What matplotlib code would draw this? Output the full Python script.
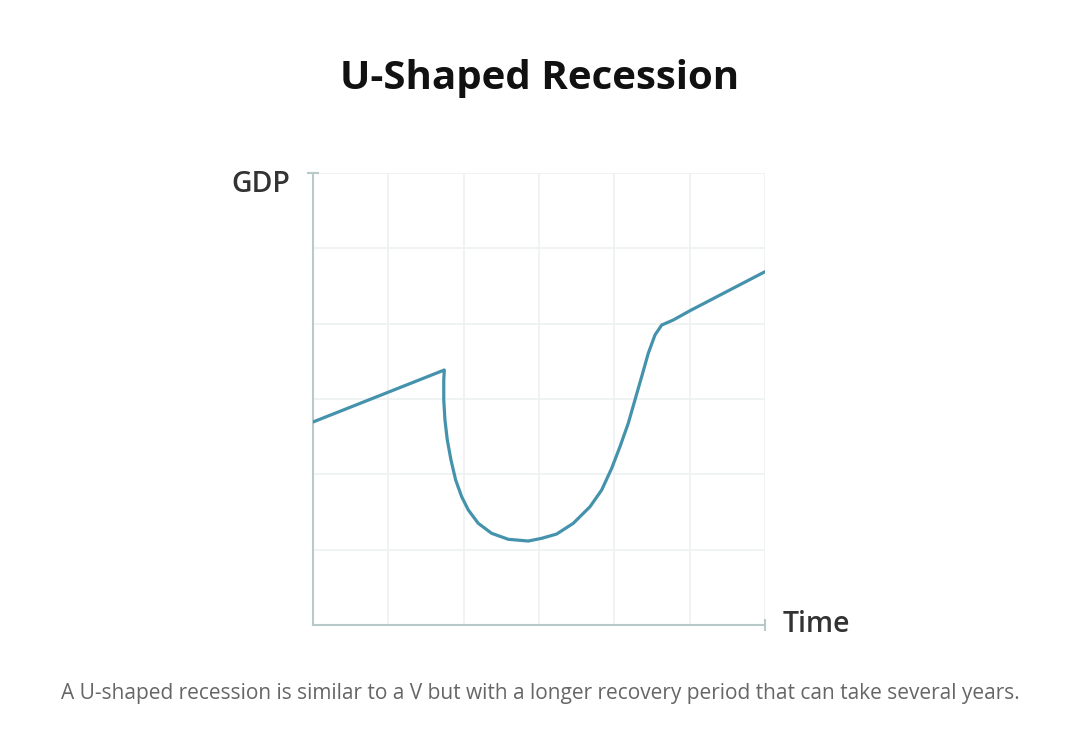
import matplotlib
matplotlib.use('Agg')
import matplotlib.pyplot as plt

# GDP curve (grid units, 6 x 6 grid)
tiempo = [0.0, 1.743, 1.736, 1.736, 1.752, 1.783, 1.832, 1.894, 1.974, 2.062,
          2.194, 2.372, 2.593, 2.858, 3.036, 3.235, 3.455, 3.677, 3.832, 3.965,
          4.075, 4.185, 4.274, 4.363, 4.451, 4.540, 4.629, 4.783, 5.004, 6.0]
pib = [2.695, 3.385, 3.252, 2.987, 2.721, 2.456, 2.190, 1.925, 1.703, 1.527,
       1.350, 1.217, 1.138, 1.115, 1.151, 1.208, 1.350, 1.570, 1.792, 2.080,
       2.367, 2.677, 2.987, 3.296, 3.607, 3.850, 3.982, 4.049, 4.172, 4.690]
rejilla = [0, 1, 2, 3, 4, 5, 6]

titulo = "U-Shaped Recession"
eje_y = "GDP"
eje_x = "Time"
nota = ("A U-shaped recession is similar to a V but with a longer recovery "
        "period that can take several years.")

plt.rcParams['font.family'] = ['Open Sans', 'DejaVu Sans']

fig = plt.figure(figsize=(10.8, 7.48), dpi=100)
ax = fig.add_axes([0.2898, 0.1644, 0.4185, 0.6043])

# Rejilla
for v in rejilla[1:]:
    ax.axvline(v, color='#eef1f1', linewidth=1.2, zorder=0)
    ax.axhline(v, color='#eef1f1', linewidth=1.2, zorder=0)

ax.plot(tiempo, pib, color='#4592ad', linewidth=2.3,
        solid_joinstyle='round', solid_capstyle='round', zorder=3)

ax.set_xlim(0, 6)
ax.set_ylim(0, 6)
ax.set_xticks([])
ax.set_yticks([])
for s in ['top', 'right']:
    ax.spines[s].set_visible(False)
for s in ['left', 'bottom']:
    ax.spines[s].set_color('#b9c8c8')
    ax.spines[s].set_linewidth(1.5)

# Remates de los ejes
ax.plot([0], [6], marker='_', markersize=8, color='#b9c8c8', mew=1.5, clip_on=False)
ax.plot([6], [0], marker='|', markersize=8, color='#b9c8c8', mew=1.5, clip_on=False)

fig.text(0.5, 1 - 78 / 748, titulo, ha='center', va='center', fontsize=29,
         fontweight='bold', color='#111111')
fig.text(290 / 1080, 1 - 185 / 748, eje_y, ha='right', va='center',
         fontsize=20.5, fontweight='semibold', color='#333333')
fig.text(783 / 1080, 1 - 625 / 748, eje_x, ha='left', va='center',
         fontsize=20.5, fontweight='semibold', color='#333333')
fig.text(0.5, 1 - 693 / 748, nota, ha='center', va='center',
         fontsize=15, color='#666666')

fig.savefig('out.png', dpi=100)
plt.close(fig)
